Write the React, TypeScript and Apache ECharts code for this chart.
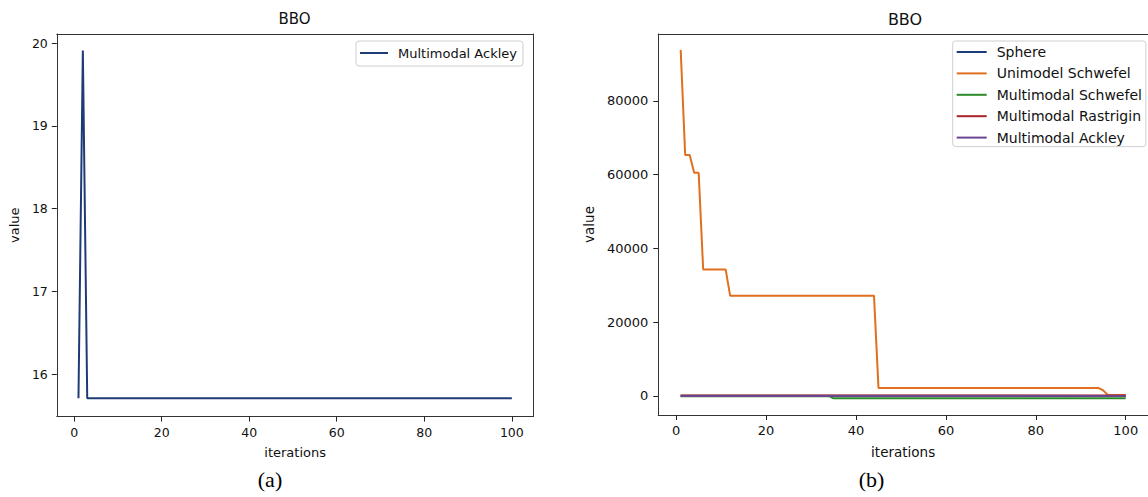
import { useEffect, useRef } from "react";
import * as echarts from "echarts";

const FONT = '"DejaVu Sans", Verdana, sans-serif';
const SERIF = '"Liberation Serif", "Times New Roman", serif';

// ---------- data ----------
const titleText = "BBO";
const xName = "iterations";
const yName = "value";
const xTicks = [0, 20, 40, 60, 80, 100];
const leftYTicks = [16, 17, 18, 19, 20];
const rightYTicks = [0, 20000, 40000, 60000, 80000];

// panel (a): [iteration, value]
const ackleyA: [number, number][] = [
  [1, 15.71], [2, 19.91], [3, 15.71], [100, 15.71],
];

// panel (b): [iteration, value]
const sphere: [number, number][] = [[1, 60], [30, 40], [100, 30]];
const unimodelSchwefel: [number, number][] = [
  [1, 93800], [2, 65300], [3, 65300], [4, 60500], [5, 60500], [6, 34300],
  [11, 34300], [12, 27200], [44, 27200], [45, 2150], [94, 2150], [95, 1500],
  [96, 300], [100, 300],
];
const multimodalSchwefel: [number, number][] = [[1, -50], [34, -50], [35, -620], [100, -620]];
const multimodalRastrigin: [number, number][] = [[1, 160], [100, 140]];
const multimodalAckley: [number, number][] = [[1, 20], [100, 20]];

const namesB = ["Sphere", "Unimodel Schwefel", "Multimodal Schwefel", "Multimodal Rastrigin", "Multimodal Ackley"];
const seriesB = [sphere, unimodelSchwefel, multimodalSchwefel, multimodalRastrigin, multimodalAckley];
const colorsB = ["#1c3c78", "#e0701f", "#2a8a2a", "#a8242a", "#6c4590"];
const colorA = "#1f3b75";

const AXIS = "#333";
const TXT = "#111";
const TICK_LEN = 5;

const plain = (v: number) => String(v);

function axisBase(fontSize: number) {
  return {
    axisLine: { show: true, onZero: false, lineStyle: { color: AXIS, width: 1 } },
    splitLine: { show: false },
    nameTextStyle: { color: TXT, fontSize, fontFamily: FONT },
  };
}

function tick(values: number[]) {
  return { show: true, inside: false, length: TICK_LEN, lineStyle: { color: "#222", width: 1 }, customValues: values };
}

function label(values: number[], fontSize: number, margin: number) {
  return { customValues: values, color: TXT, fontSize, fontFamily: FONT, margin, formatter: plain };
}

function legendBase(left: number, top: number, fontSize: number, itemWidth: number, padding: number[], gap: number) {
  return {
    orient: "vertical",
    left,
    top,
    icon: "rect",
    itemWidth,
    itemHeight: 2,
    itemGap: gap,
    padding,
    backgroundColor: "#fff",
    borderColor: "#cfcfcf",
    borderWidth: 1,
    borderRadius: 3,
    selectedMode: false,
    textStyle: { color: TXT, fontSize, fontFamily: FONT, lineHeight: 14, padding: [0, 0, 0, 5] },
  };
}

function optionA() {
  return {
    animation: false,
    grid: { left: 56, top: 34, width: 477.5, height: 382.5, show: false },
    xAxis: [
      {
        type: "value", position: "bottom", min: -3.95, max: 104.95, name: xName, nameLocation: "middle", nameGap: 29,
        ...axisBase(13),
        axisTick: tick(xTicks),
        axisLabel: label(xTicks, 12.5, 9),
      },
      {
        type: "value", position: "top", min: -3.95, max: 104.95,
        axisLine: { show: true, onZero: false, lineStyle: { color: AXIS, width: 1 } },
        axisTick: { show: false }, axisLabel: { show: false }, splitLine: { show: false },
      },
    ],
    yAxis: [
      {
        type: "value", position: "left", min: 15.49, max: 20.11, name: yName, nameLocation: "middle", nameGap: 34,
        ...axisBase(13),
        axisTick: tick(leftYTicks),
        axisLabel: label(leftYTicks, 12.5, 9),
      },
      {
        type: "value", position: "right", min: 15.49, max: 20.11,
        axisLine: { show: true, onZero: false, lineStyle: { color: AXIS, width: 1 } },
        axisTick: { show: false }, axisLabel: { show: false }, splitLine: { show: false },
      },
    ],
    legend: { ...legendBase(356, 41, 13, 28, [5, 6, 6, 4], 8), data: ["Multimodal Ackley"] },
    series: [
      {
        name: "Multimodal Ackley", type: "line", data: ackleyA, showSymbol: false, symbol: "none",
        lineStyle: { color: colorA, width: 2 }, itemStyle: { color: colorA },
      },
    ],
    graphic: [
      { type: "text", x: 294.5, y: 19, style: { text: titleText, fontSize: 15, fontFamily: FONT, fill: TXT, align: "center", verticalAlign: "middle" } },
      { type: "text", x: 270, y: 479, style: { text: "(a)", fontSize: 22, fontFamily: SERIF, fill: "#000", align: "center", verticalAlign: "middle" } },
    ],
  };
}

function optionB() {
  return {
    animation: false,
    grid: { left: 81, top: 34, width: 500, height: 381, show: false },
    xAxis: [
      {
        type: "value", position: "bottom", min: -3.99, max: 104.95, name: xName, nameLocation: "middle", nameGap: 30,
        ...axisBase(13.5),
        axisTick: tick(xTicks),
        axisLabel: label(xTicks, 13, 9),
      },
      {
        type: "value", position: "top", min: -3.99, max: 104.95,
        axisLine: { show: true, onZero: false, lineStyle: { color: AXIS, width: 1 } },
        axisTick: { show: false }, axisLabel: { show: false }, splitLine: { show: false },
      },
    ],
    yAxis: {
      type: "value", position: "left", min: -5150, max: 98100, name: yName, nameLocation: "middle", nameGap: 62,
      ...axisBase(13.5),
      axisTick: tick(rightYTicks),
      axisLabel: label(rightYTicks, 13, 10),
    },
    legend: { ...legendBase(378.7, 41, 14, 30, [4, 4, 2, 4], 7.4), data: namesB },
    series: namesB.map((n, i) => ({
      name: n, type: "line", data: seriesB[i], showSymbol: false, symbol: "none",
      lineStyle: { color: colorsB[i], width: 2 }, itemStyle: { color: colorsB[i] },
    })),
    graphic: [
      { type: "text", x: 331, y: 19, style: { text: titleText, fontSize: 16, fontFamily: FONT, fill: TXT, align: "center", verticalAlign: "middle" } },
      { type: "text", x: 297.5, y: 479, style: { text: "(b)", fontSize: 22, fontFamily: SERIF, fill: "#000", align: "center", verticalAlign: "middle" } },
    ],
  };
}

export default function App() {
  const refA = useRef<HTMLDivElement>(null);
  const refB = useRef<HTMLDivElement>(null);
  useEffect(() => {
    document.body.style.margin = "0";
    const a = echarts.init(refA.current!, null, { renderer: "svg" });
    const b = echarts.init(refB.current!, null, { renderer: "svg" });
    a.setOption(optionA() as any);
    b.setOption(optionB() as any);
    return () => {
      a.dispose();
      b.dispose();
    };
  }, []);
  return (
    <div style={{ position: "fixed", left: 0, top: 0, width: 1148, height: 497, background: "#fff" }}>
      <div ref={refA} style={{ position: "absolute", left: 0, top: 0, width: 574, height: 497 }} />
      <div ref={refB} style={{ position: "absolute", left: 574, top: 0, width: 574, height: 497 }} />
    </div>
  );
}
